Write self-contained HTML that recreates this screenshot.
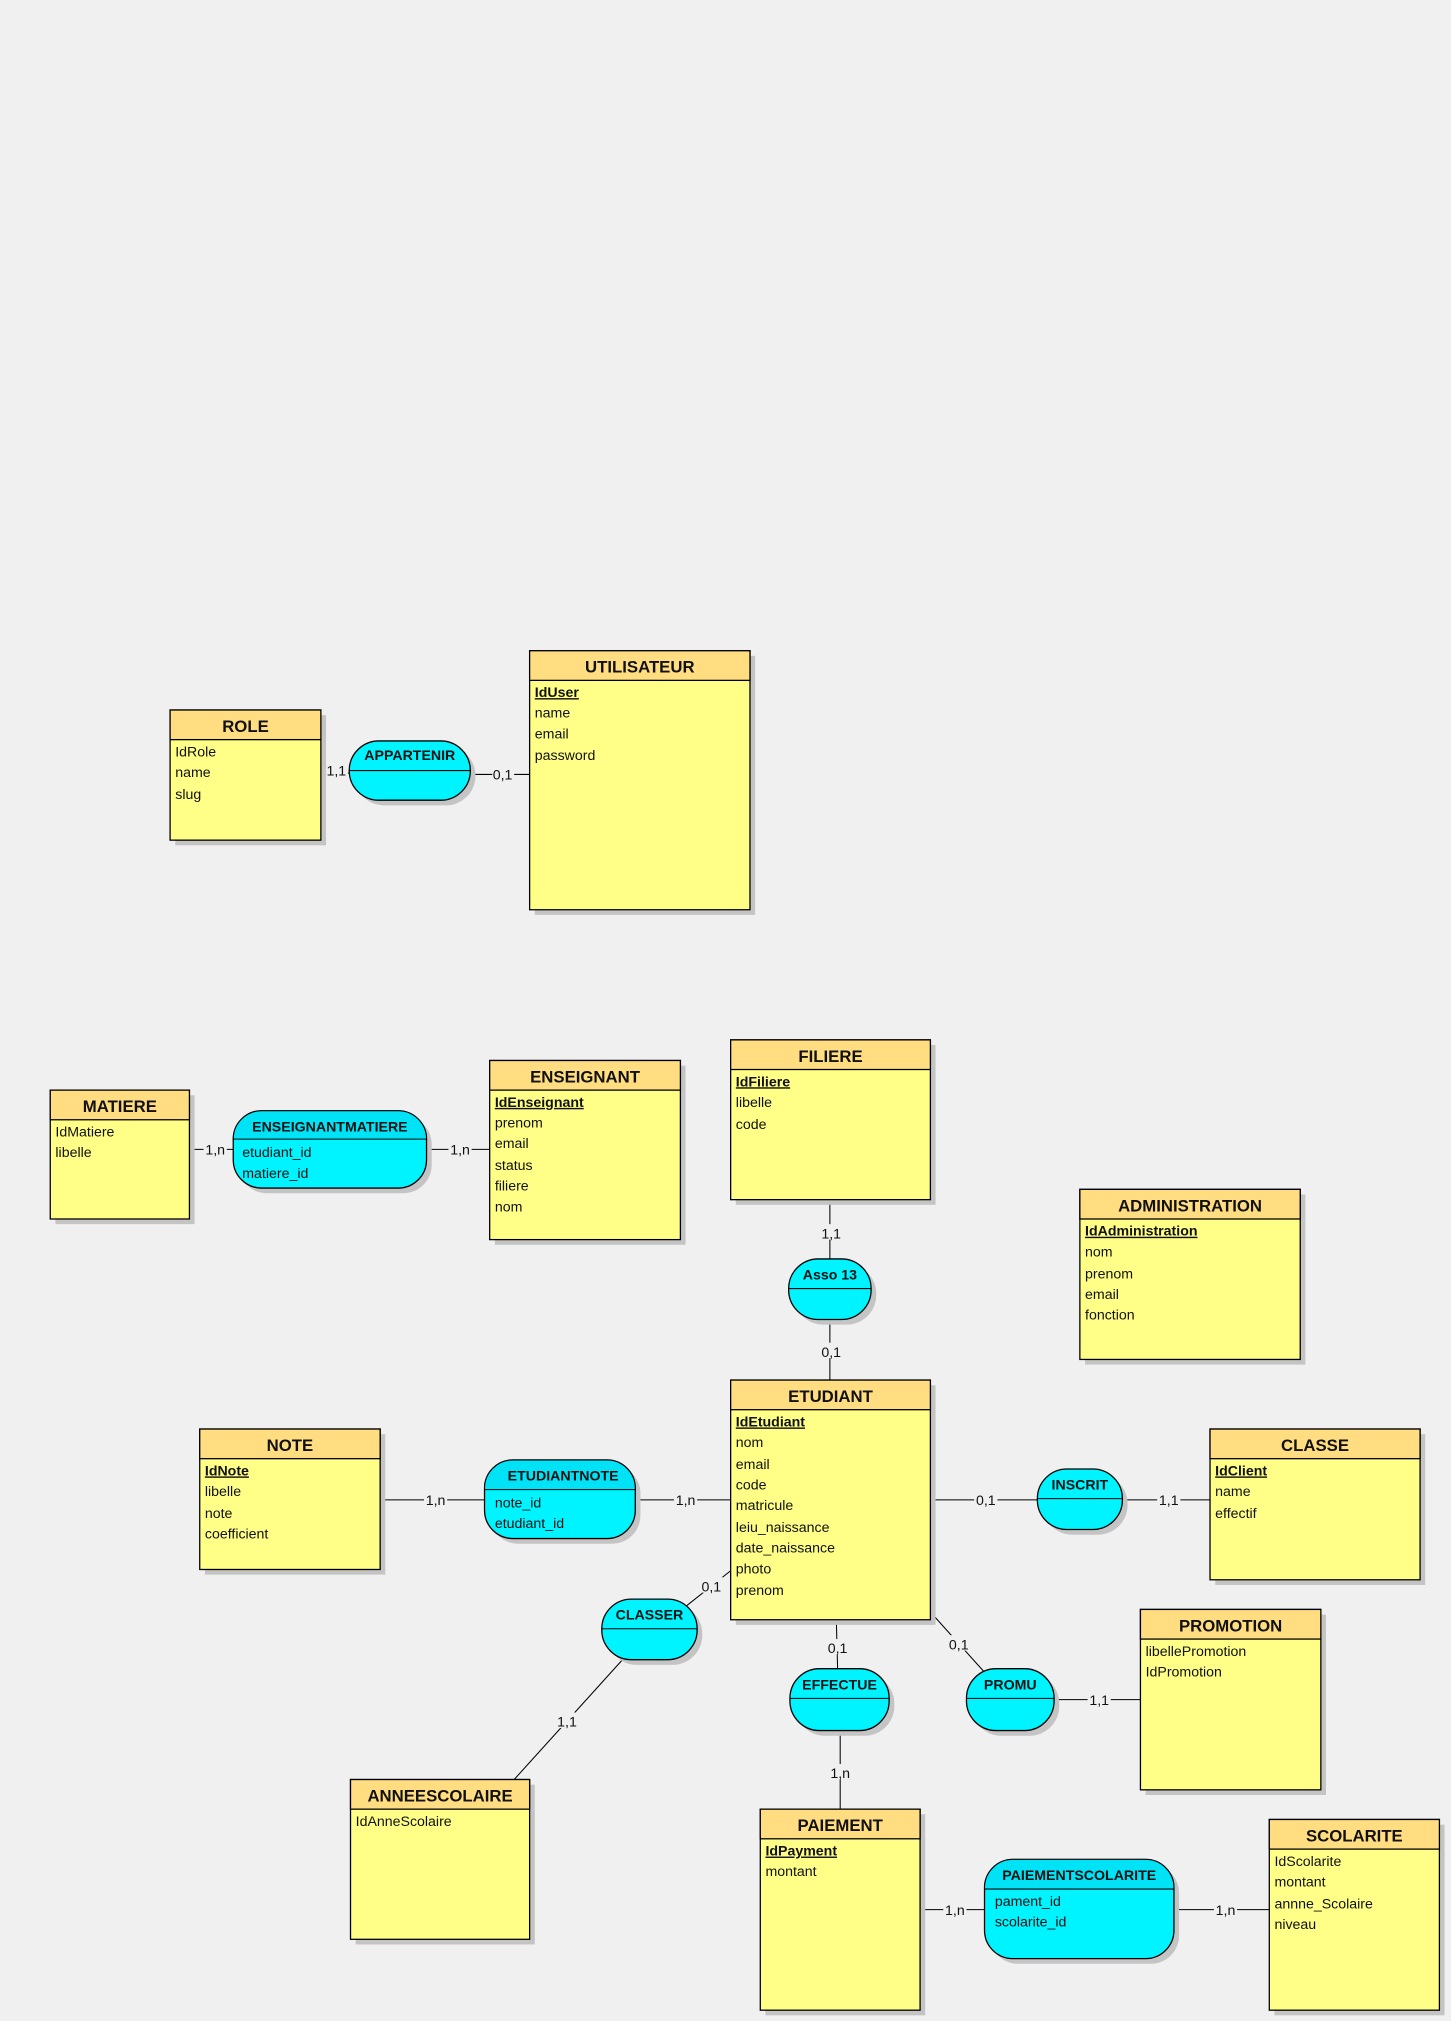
<!DOCTYPE html>
<html><head><meta charset="utf-8"><style>
html,body{margin:0;padding:0;background:#f0f0f0;}
svg{display:block}
text{font-family:"Liberation Sans",sans-serif;fill:#111;}
.t{font-size:13px;font-weight:bold;text-anchor:middle}
.a{font-size:11px}
.k{font-size:11px;font-weight:bold;text-decoration:underline}
.r{font-size:11px;font-weight:bold;text-anchor:middle}
.c{font-size:11px;text-anchor:middle}
.sh{fill:#c4c4c4}
.bd{fill:#ffff88;stroke:#000;stroke-width:1}
.hd{fill:#ffdd80;stroke:#000;stroke-width:1}
.rl{fill:#00f4ff;stroke:#000;stroke-width:1}
line,polyline{stroke:#000;stroke-width:0.8}
.lb{fill:#f0f0f0}
</style></head><body>
<svg width="1451" height="2021" viewBox="0 0 1126 1568.4" preserveAspectRatio="none" xmlns="http://www.w3.org/2000/svg">
<!-- connectors -->
<line x1="249" y1="600" x2="271" y2="600"/>
<line x1="365" y1="601" x2="411" y2="601"/>
<line x1="147" y1="892" x2="181" y2="892"/>
<line x1="331" y1="892" x2="380" y2="892"/>
<line x1="644" y1="931" x2="644" y2="977"/>
<line x1="644" y1="1024" x2="644" y2="1071"/>
<line x1="295" y1="1164" x2="376" y2="1164"/>
<line x1="493" y1="1164" x2="567" y2="1164"/>
<line x1="722" y1="1164" x2="805" y2="1164"/>
<line x1="871" y1="1164" x2="939" y2="1164"/>
<line x1="567" y1="1219" x2="533" y2="1246"/>
<line x1="484" y1="1287" x2="399" y2="1381"/>
<line x1="649" y1="1257" x2="650" y2="1295"/>
<line x1="652" y1="1343" x2="652" y2="1404"/>
<line x1="722" y1="1251" x2="766" y2="1300"/>
<line x1="818" y1="1319" x2="885" y2="1319"/>
<line x1="714" y1="1482" x2="764" y2="1482"/>
<line x1="911" y1="1482" x2="985" y2="1482"/>
<!-- cardinality labels -->
<g>
<rect class="lb" x="253" y="593" width="17" height="12"/><text class="c" x="261" y="602">1,1</text>
<rect class="lb" x="382" y="594" width="17" height="12"/><text class="c" x="390" y="605">0,1</text>
<rect class="lb" x="158" y="885" width="18" height="12"/><text class="c" x="167" y="896">1,n</text>
<rect class="lb" x="348" y="885" width="18" height="12"/><text class="c" x="357" y="896">1,n</text>
<rect class="lb" x="636" y="950" width="17" height="12"/><text class="c" x="645" y="961">1,1</text>
<rect class="lb" x="636" y="1042" width="17" height="12"/><text class="c" x="645" y="1053">0,1</text>
<rect class="lb" x="329" y="1157" width="18" height="12"/><text class="c" x="338" y="1168">1,n</text>
<rect class="lb" x="523" y="1157" width="18" height="12"/><text class="c" x="532" y="1168">1,n</text>
<rect class="lb" x="756" y="1157" width="18" height="12"/><text class="c" x="765" y="1168">0,1</text>
<rect class="lb" x="898" y="1157" width="18" height="12"/><text class="c" x="907" y="1168">1,1</text>
<rect class="lb" x="543" y="1224" width="18" height="12"/><text class="c" x="552" y="1235">0,1</text>
<rect class="lb" x="431" y="1329" width="18" height="12"/><text class="c" x="440" y="1340">1,1</text>
<rect class="lb" x="641" y="1272" width="18" height="12"/><text class="c" x="650" y="1283">0,1</text>
<rect class="lb" x="643" y="1369" width="18" height="12"/><text class="c" x="652" y="1380">1,n</text>
<rect class="lb" x="735" y="1269" width="18" height="12"/><text class="c" x="744" y="1280">0,1</text>
<rect class="lb" x="844" y="1312" width="18" height="12"/><text class="c" x="853" y="1323">1,1</text>
<rect class="lb" x="732" y="1475" width="18" height="12"/><text class="c" x="741" y="1486">1,n</text>
<rect class="lb" x="942" y="1475" width="18" height="12"/><text class="c" x="951" y="1486">1,n</text>
</g>

<!-- ROLE -->
<rect class="sh" x="136" y="555" width="117" height="101"/>
<rect class="bd" x="132" y="551" width="117" height="101"/>
<rect class="hd" x="132" y="551" width="117" height="23"/>
<text class="t" x="190.5" y="568">ROLE</text>
<text class="a" x="136" y="587">IdRole</text>
<text class="a" x="136" y="603">name</text>
<text class="a" x="136" y="620">slug</text>

<!-- UTILISATEUR -->
<rect class="sh" x="415" y="509" width="171" height="201"/>
<rect class="bd" x="411" y="505" width="171" height="201"/>
<rect class="hd" x="411" y="505" width="171" height="23"/>
<text class="t" x="496.5" y="522">UTILISATEUR</text>
<text class="k" x="415" y="541">IdUser</text>
<text class="a" x="415" y="557">name</text>
<text class="a" x="415" y="573">email</text>
<text class="a" x="415" y="590">password</text>

<!-- APPARTENIR -->
<rect class="sh" x="275" y="579" width="94" height="46" rx="23"/>
<rect class="rl" x="271" y="575" width="94" height="46" rx="23"/>
<line x1="271" y1="598" x2="365" y2="598"/>
<text class="r" x="318" y="590">APPARTENIR</text>

<!-- MATIERE -->
<rect class="sh" x="43" y="850" width="108" height="100"/>
<rect class="bd" x="39" y="846" width="108" height="100"/>
<rect class="hd" x="39" y="846" width="108" height="23"/>
<text class="t" x="93" y="863">MATIERE</text>
<text class="a" x="43" y="882">IdMatiere</text>
<text class="a" x="43" y="898">libelle</text>

<!-- ENSEIGNANTMATIERE -->
<rect class="sh" x="185" y="866" width="150" height="60" rx="22"/>
<rect class="rl" x="181" y="862" width="150" height="60" rx="22"/>
<path d="M203,862 H309 A22,22 0 0 1 331,884 H181 A22,22 0 0 1 203,862 Z" fill="#00e2f5" stroke="#000" stroke-width="0.8"/>
<text class="r" x="256" y="878">ENSEIGNANTMATIERE</text>
<text class="a" x="188" y="898">etudiant_id</text>
<text class="a" x="188" y="914">matiere_id</text>

<!-- ENSEIGNANT -->
<rect class="sh" x="384" y="827" width="148" height="139"/>
<rect class="bd" x="380" y="823" width="148" height="139"/>
<rect class="hd" x="380" y="823" width="148" height="23"/>
<text class="t" x="454" y="840">ENSEIGNANT</text>
<text class="k" x="384" y="859">IdEnseignant</text>
<text class="a" x="384" y="875">prenom</text>
<text class="a" x="384" y="891">email</text>
<text class="a" x="384" y="908">status</text>
<text class="a" x="384" y="924">filiere</text>
<text class="a" x="384" y="940">nom</text>

<!-- FILIERE -->
<rect class="sh" x="571" y="811" width="155" height="124"/>
<rect class="bd" x="567" y="807" width="155" height="124"/>
<rect class="hd" x="567" y="807" width="155" height="23"/>
<text class="t" x="644.5" y="824">FILIERE</text>
<text class="k" x="571" y="843">IdFiliere</text>
<text class="a" x="571" y="859">libelle</text>
<text class="a" x="571" y="876">code</text>

<!-- Asso 13 -->
<rect class="sh" x="616" y="981" width="64" height="47" rx="23"/>
<rect class="rl" x="612" y="977" width="64" height="47" rx="23"/>
<line x1="612" y1="1000" x2="676" y2="1000"/>
<text class="r" x="644" y="993">Asso 13</text>

<!-- ADMINISTRATION -->
<rect class="sh" x="842" y="927" width="171" height="132"/>
<rect class="bd" x="838" y="923" width="171" height="132"/>
<rect class="hd" x="838" y="923" width="171" height="23"/>
<text class="t" x="923.5" y="940">ADMINISTRATION</text>
<text class="k" x="842" y="959">IdAdministration</text>
<text class="a" x="842" y="975">nom</text>
<text class="a" x="842" y="992">prenom</text>
<text class="a" x="842" y="1008">email</text>
<text class="a" x="842" y="1024">fonction</text>

<!-- ETUDIANT -->
<rect class="sh" x="571" y="1075" width="155" height="186"/>
<rect class="bd" x="567" y="1071" width="155" height="186"/>
<rect class="hd" x="567" y="1071" width="155" height="23"/>
<text class="t" x="644.5" y="1088">ETUDIANT</text>
<text class="k" x="571" y="1107">IdEtudiant</text>
<text class="a" x="571" y="1123">nom</text>
<text class="a" x="571" y="1140">email</text>
<text class="a" x="571" y="1156">code</text>
<text class="a" x="571" y="1172">matricule</text>
<text class="a" x="571" y="1189">leiu_naissance</text>
<text class="a" x="571" y="1205">date_naissance</text>
<text class="a" x="571" y="1221">photo</text>
<text class="a" x="571" y="1238">prenom</text>

<!-- NOTE -->
<rect class="sh" x="159" y="1113" width="140" height="109"/>
<rect class="bd" x="155" y="1109" width="140" height="109"/>
<rect class="hd" x="155" y="1109" width="140" height="23"/>
<text class="t" x="225" y="1126">NOTE</text>
<text class="k" x="159" y="1145">IdNote</text>
<text class="a" x="159" y="1161">libelle</text>
<text class="a" x="159" y="1178">note</text>
<text class="a" x="159" y="1194">coefficient</text>

<!-- ETUDIANTNOTE -->
<rect class="sh" x="380" y="1137" width="117" height="61" rx="22"/>
<rect class="rl" x="376" y="1133" width="117" height="61" rx="22"/>
<path d="M398,1133 H471 A22,22 0 0 1 493,1155 V1156 H376 V1155 A22,22 0 0 1 398,1133 Z" fill="#00e2f5" stroke="#000" stroke-width="0.8"/>
<text class="r" x="437" y="1149">ETUDIANTNOTE</text>
<text class="a" x="384" y="1170">note_id</text>
<text class="a" x="384" y="1186">etudiant_id</text>

<!-- INSCRIT -->
<rect class="sh" x="809" y="1144" width="66" height="47" rx="23"/>
<rect class="rl" x="805" y="1140" width="66" height="47" rx="23"/>
<line x1="805" y1="1163" x2="871" y2="1163"/>
<text class="r" x="838" y="1156">INSCRIT</text>

<!-- CLASSE -->
<rect class="sh" x="943" y="1113" width="163" height="117"/>
<rect class="bd" x="939" y="1109" width="163" height="117"/>
<rect class="hd" x="939" y="1109" width="163" height="23"/>
<text class="t" x="1020.5" y="1126">CLASSE</text>
<text class="k" x="943" y="1145">IdClient</text>
<text class="a" x="943" y="1161">name</text>
<text class="a" x="943" y="1178">effectif</text>

<!-- CLASSER -->
<rect class="sh" x="471" y="1245" width="74" height="47" rx="23"/>
<rect class="rl" x="467" y="1241" width="74" height="47" rx="23"/>
<line x1="467" y1="1264" x2="541" y2="1264"/>
<text class="r" x="504" y="1257">CLASSER</text>

<!-- EFFECTUE -->
<rect class="sh" x="617" y="1299" width="77" height="48" rx="23"/>
<rect class="rl" x="613" y="1295" width="77" height="48" rx="23"/>
<line x1="613" y1="1318" x2="690" y2="1318"/>
<text class="r" x="651.5" y="1311">EFFECTUE</text>

<!-- PROMU -->
<rect class="sh" x="754" y="1299" width="68" height="48" rx="23"/>
<rect class="rl" x="750" y="1295" width="68" height="48" rx="23"/>
<line x1="750" y1="1318" x2="818" y2="1318"/>
<text class="r" x="784" y="1311">PROMU</text>

<!-- PROMOTION -->
<rect class="sh" x="889" y="1253" width="140" height="140"/>
<rect class="bd" x="885" y="1249" width="140" height="140"/>
<rect class="hd" x="885" y="1249" width="140" height="23"/>
<text class="t" x="955" y="1266">PROMOTION</text>
<text class="a" x="889" y="1285">libellePromotion</text>
<text class="a" x="889" y="1301">IdPromotion</text>

<!-- ANNEESCOLAIRE -->
<rect class="sh" x="276" y="1385" width="139" height="124"/>
<rect class="bd" x="272" y="1381" width="139" height="124"/>
<rect class="hd" x="272" y="1381" width="139" height="23"/>
<text class="t" x="341.5" y="1398">ANNEESCOLAIRE</text>
<text class="a" x="276" y="1417">IdAnneScolaire</text>

<!-- PAIEMENT -->
<rect class="sh" x="594" y="1408" width="124" height="156"/>
<rect class="bd" x="590" y="1404" width="124" height="156"/>
<rect class="hd" x="590" y="1404" width="124" height="23"/>
<text class="t" x="652" y="1421">PAIEMENT</text>
<text class="k" x="594" y="1440">IdPayment</text>
<text class="a" x="594" y="1456">montant</text>

<!-- PAIEMENTSCOLARITE -->
<rect class="sh" x="768" y="1447" width="147" height="77" rx="22"/>
<rect class="rl" x="764" y="1443" width="147" height="77" rx="22"/>
<path d="M786,1443 H889 A22,22 0 0 1 911,1465 V1466 H764 V1465 A22,22 0 0 1 786,1443 Z" fill="#00e2f5" stroke="#000" stroke-width="0.8"/>
<text class="r" x="837.5" y="1459">PAIEMENTSCOLARITE</text>
<text class="a" x="772" y="1479">pament_id</text>
<text class="a" x="772" y="1495">scolarite_id</text>

<!-- SCOLARITE -->
<rect class="sh" x="989" y="1416" width="132" height="148"/>
<rect class="bd" x="985" y="1412" width="132" height="148"/>
<rect class="hd" x="985" y="1412" width="132" height="23"/>
<text class="t" x="1051" y="1429">SCOLARITE</text>
<text class="a" x="989" y="1448">IdScolarite</text>
<text class="a" x="989" y="1464">montant</text>
<text class="a" x="989" y="1481">annne_Scolaire</text>
<text class="a" x="989" y="1497">niveau</text>
</svg>
</body></html>
